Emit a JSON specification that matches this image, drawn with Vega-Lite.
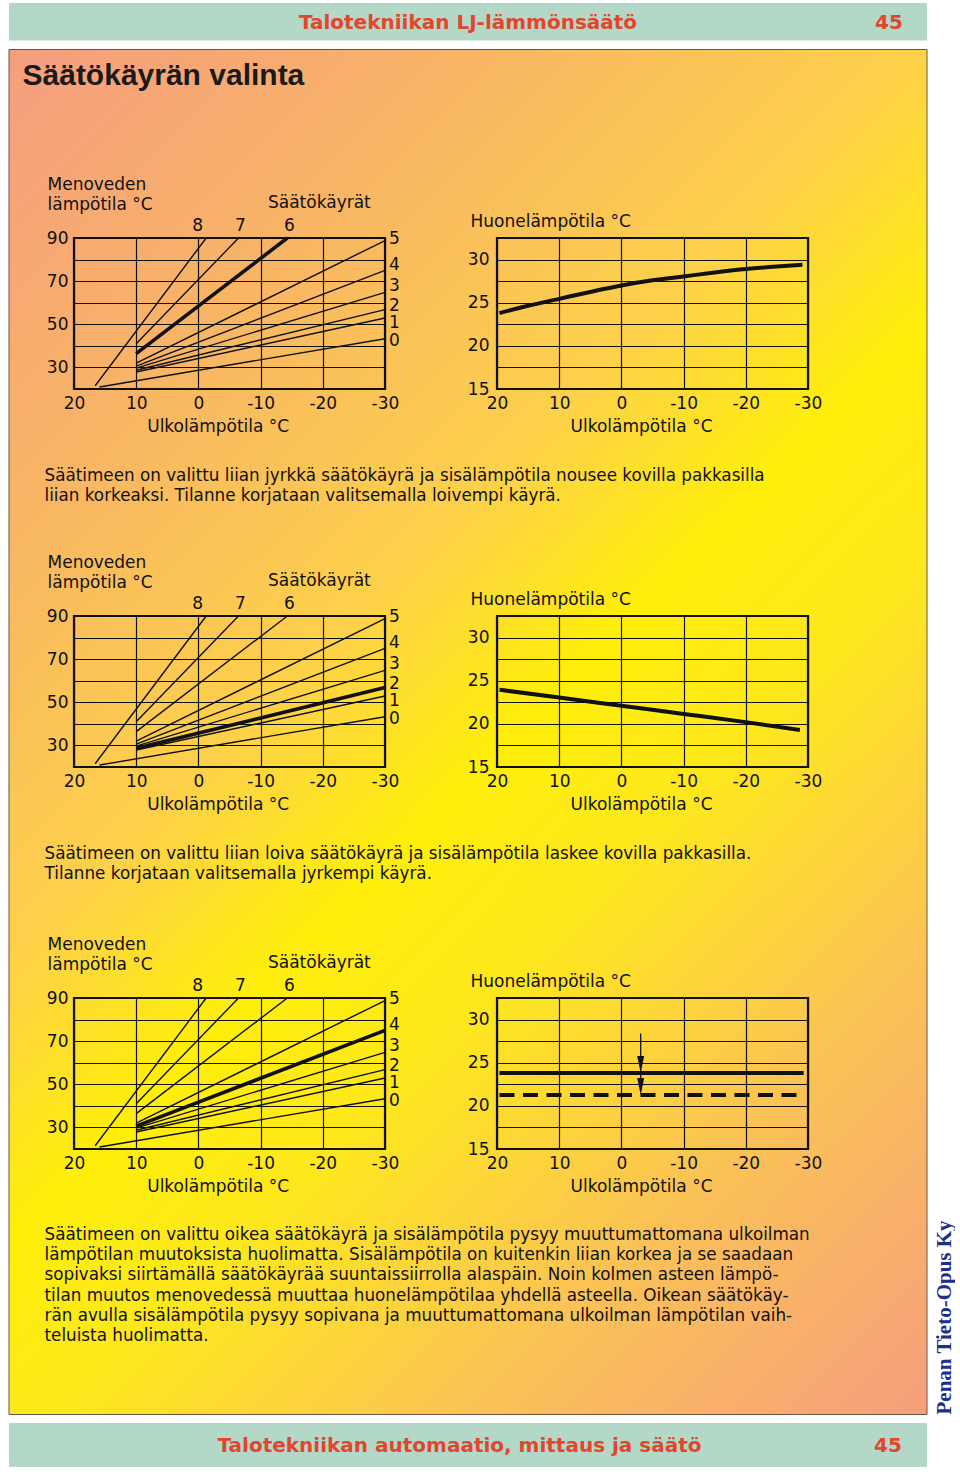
{
  "$schema": "https://vega.github.io/schema/vega-lite/v6.json",
  "background": "white",
  "padding": {"left": 8, "top": 3, "right": 0, "bottom": 0},
  "autosize": {"type": "pad"},
  "bounds": "flush",
  "spacing": 0,
  "config": {
    "view": {"stroke": null},
    "font": "DejaVu Sans",
    "axis": {"labelFont": "DejaVu Sans", "labelFontSize": 17, "labelColor": "#111", "titleFont": "DejaVu Sans", "titleFontSize": 17, "titleFontWeight": "normal", "titleColor": "#111", "domain": false, "ticks": false, "tickSize": 0, "grid": true, "gridColor": "#111", "gridWidth": 1.2, "gridOpacity": 1, "labelOverlap": false},
    "title": {"font": "DejaVu Sans", "fontWeight": "normal", "color": "#111", "anchor": "start", "frame": "group"}
  },
  "datasets": {
    "curves": [
      {"curve": "8", "t": 16.6, "v": 21.5}, {"curve": "8", "t": -1.25, "v": 90},
      {"curve": "7", "t": 10, "v": 41}, {"curve": "7", "t": -6.45, "v": 90},
      {"curve": "6", "t": 10, "v": 36.4}, {"curve": "6", "t": -14.3, "v": 90},
      {"curve": "5", "t": 10, "v": 32}, {"curve": "5", "t": -30, "v": 88.8},
      {"curve": "4", "t": 10, "v": 30.6}, {"curve": "4", "t": -30, "v": 75},
      {"curve": "3", "t": 10, "v": 29.7}, {"curve": "3", "t": -30, "v": 64.8},
      {"curve": "2", "t": 10, "v": 28.7}, {"curve": "2", "t": -30, "v": 56.8},
      {"curve": "1", "t": 10, "v": 27.9}, {"curve": "1", "t": -30, "v": 52.9},
      {"curve": "0", "t": 15.9, "v": 20.9}, {"curve": "0", "t": -30, "v": 43.3}
    ],
    "curveLabels": [
      {"label": "8", "t": 0.1, "v": 95.7}, {"label": "7", "t": -6.77, "v": 95.7}, {"label": "6", "t": -14.64, "v": 95.7},
      {"label": "5", "t": -31.5, "v": 89.5}, {"label": "4", "t": -31.5, "v": 77.3}, {"label": "3", "t": -31.5, "v": 67.6},
      {"label": "2", "t": -31.5, "v": 58.6}, {"label": "1", "t": -31.5, "v": 50.6}, {"label": "0", "t": -31.5, "v": 42.1},
      {"label": "Säätökäyrät", "t": -19.45, "v": 106.2}
    ],
    "room1": [
      {"t": 19.6, "v": 23.8}, {"t": 15, "v": 24.65}, {"t": 10, "v": 25.45}, {"t": 5, "v": 26.25}, {"t": 0, "v": 27.0},
      {"t": -5, "v": 27.6}, {"t": -10, "v": 28.05}, {"t": -15, "v": 28.5}, {"t": -20, "v": 28.9}, {"t": -25, "v": 29.2}, {"t": -29.1, "v": 29.4}
    ],
    "room2": [
      {"t": 19.6, "v": 23.95}, {"t": 10, "v": 23.05}, {"t": 0, "v": 22.1}, {"t": -10, "v": 21.15}, {"t": -20, "v": 20.2}, {"t": -28.7, "v": 19.3}
    ],
    "room3": [
      {"kind": "now", "t": 19.6, "v": 23.8}, {"kind": "now", "t": -29.3, "v": 23.8},
      {"kind": "target", "t": 19.6, "v": 21.25}, {"kind": "target", "t": -28.2, "v": 21.25}
    ],
    "arrow": [{"t": -3.1, "v": 28.4, "v2": 21.8}],
    "arrowHeads": [{"t": -3.1, "v": 23.8}, {"t": -3.1, "v": 21.25}]
  },
  "vconcat": [
    {
      "concat": [
        {
          "width": 918, "height": 37.5,
          "view": {"fill": "#B4D8C8"},
          "data": {"values": [{"title": "Talotekniikan LJ-lämmönsäätö", "page": "45"}]},
          "layer": [
            {"mark": {"type": "text", "font": "DejaVu Sans", "fontWeight": "bold", "fontSize": 20, "color": "#E2462C", "baseline": "middle", "dy": 1.5}, "encoding": {"text": {"field": "title"}}},
            {"mark": {"type": "text", "font": "DejaVu Sans", "fontWeight": "bold", "fontSize": 20, "color": "#E2462C", "baseline": "middle", "align": "center", "dx": -38, "dy": 1.5}, "encoding": {"text": {"field": "page"}, "x": {"value": "width"}}}
          ]
        },
        {"width": 17, "height": 37.5, "data": {"values": [{}]}, "mark": {"type": "text", "text": ""}},
        {
          "width": 918, "height": 1365,
          "data": {"values": [{}]},
          "mark": {"type": "rect", "stroke": "#6B5646", "strokeWidth": 1,
            "fill": {"gradient": "linear", "x1": 0, "y1": 0, "x2": 0.774, "y2": 1.152,
              "stops": [
                {"offset": 0, "color": "#F59D80"}, {"offset": 0.2, "color": "#F8B466"}, {"offset": 0.4, "color": "#FDD14A"},
                {"offset": 0.52, "color": "#FFEE0A"}, {"offset": 0.62, "color": "#FEE81C"}, {"offset": 0.8, "color": "#FBC256"},
                {"offset": 1, "color": "#F59E7E"}]}},
          "encoding": {"x": {"value": 0}, "x2": {"value": "width"}, "y": {"value": 0}, "y2": {"value": "height"}}
        },
        {
          "width": 17, "height": 1365,
          "data": {"values": [{"t": "Penan Tieto-Opus Ky"}]},
          "mark": {"type": "text", "angle": 270, "align": "left", "baseline": "middle", "font": "Liberation Serif", "fontWeight": "bold", "fontSize": 21, "color": "#1E2E8E"},
          "encoding": {"text": {"field": "t"}, "y": {"value": "height"}}
        },
        {
          "width": 918, "height": 44,
          "view": {"fill": "#B4D8C8"},
          "data": {"values": [{"title": "Talotekniikan automaatio, mittaus ja säätö", "page": "45"}]},
          "layer": [
            {"mark": {"type": "text", "font": "DejaVu Sans", "fontWeight": "bold", "fontSize": 20, "color": "#E2462C", "baseline": "middle", "dx": -8.5, "dy": 1}, "encoding": {"text": {"field": "title"}}},
            {"mark": {"type": "text", "font": "DejaVu Sans", "fontWeight": "bold", "fontSize": 20, "color": "#E2462C", "baseline": "middle", "align": "center", "dx": -39, "dy": 1}, "encoding": {"text": {"field": "page"}, "x": {"value": "width"}}}
          ]
        },
        {"width": 17, "height": 44, "data": {"values": [{}]}, "mark": {"type": "text", "text": ""}}
      ],
      "columns": 2,
      "spacing": {"row": 8.5, "column": 9},
      "bounds": "flush"
    },
    {
      "hconcat": [
        {"width": 65, "height": 200, "data": {"values": [{}]}, "mark": {"type": "text", "text": ""}},
        {
          "concat": [
            {"width": 311, "height": 46, "data": {"values": [{}]}, "mark": {"type": "text", "text": ""},
             "title": {"text": "Säätökäyrän valinta", "orient": "bottom", "anchor": "start", "frame": "group", "baseline": "top", "offset": 12, "dx": -51.5, "font": "Liberation Sans", "fontSize": 30, "fontWeight": "bold", "color": "#1a1a1a"}},
            {"width": 311, "height": 46, "data": {"values": [{}]}, "mark": {"type": "text", "text": ""}},
            {"width": 311, "height": 189, "data": {"values": [{}]}, "mark": {"type": "text", "text": ""}},
            {"width": 311, "height": 189, "data": {"values": [{}]}, "mark": {"type": "text", "text": ""}},
            {
              "width": 311, "height": 151,
              "view": {"stroke": "#111", "strokeWidth": 2.2},
              "encoding": {
                "x": {"field": "t", "type": "quantitative", "scale": {"domain": [20, -30], "nice": false, "zero": false},
                  "axis": {"values": [20, 10, 0, -10, -20, -30], "labelExpr": "datum.value < 0 ? '-' + abs(datum.value) : '' + datum.value", "labelPadding": 6, "labelBaseline": "top", "labelFlush": false, "title": "Ulkolämpötila °C", "titleX": 143.7, "titleY": 29.5, "titleAlign": "center", "titleBaseline": "top"}},
                "y": {"field": "v", "type": "quantitative", "scale": {"domain": [20, 90], "nice": false, "zero": false},
                  "axis": {"values": [20, 30, 40, 50, 60, 70, 80, 90], "labelExpr": "datum.value % 20 == 10 ? '' + datum.value : ''", "labelPadding": 6, "title": ["Menoveden", "lämpötila °C"], "titleAngle": 0, "titleAlign": "left", "titleBaseline": "alphabetic", "titleX": -27, "titleY": -49, "titleLineHeight": 20}}
              },
              "layer": [
                {"data": {"name": "curves"}, "mark": {"type": "line", "color": "#111", "strokeWidth": 1.4}, "encoding": {"detail": {"field": "curve"}}},
                {"data": {"name": "curves"}, "transform": [{"filter": "datum.curve === '6'"}], "mark": {"type": "line", "color": "#111", "strokeWidth": 3.6}},
                {"data": {"name": "curveLabels"}, "mark": {"type": "text", "fontSize": 17, "color": "#111", "baseline": "middle"}, "encoding": {"text": {"field": "label"}}}
              ]
            },
            {
              "width": 311, "height": 151,
              "view": {"stroke": "#111", "strokeWidth": 2.2},
              "encoding": {
                "x": {"field": "t", "type": "quantitative", "scale": {"domain": [20, -30], "nice": false, "zero": false},
                  "axis": {"values": [20, 10, 0, -10, -20, -30], "labelExpr": "datum.value < 0 ? '-' + abs(datum.value) : '' + datum.value", "labelPadding": 6, "labelBaseline": "top", "labelFlush": false, "title": "Ulkolämpötila °C", "titleX": 144, "titleY": 29.5, "titleAlign": "center", "titleBaseline": "top"}},
                "y": {"field": "v", "type": "quantitative", "scale": {"domain": [15, 32.5], "nice": false, "zero": false},
                  "axis": {"values": [15, 17.5, 20, 22.5, 25, 27.5, 30, 32.5], "labelExpr": "datum.value % 5 == 0 ? '' + datum.value : ''", "labelPadding": 8, "title": "Huonelämpötila °C", "titleAngle": 0, "titleAlign": "left", "titleBaseline": "alphabetic", "titleX": -27, "titleY": -12}}
              },
              "layer": [
                {"data": {"name": "room1"}, "mark": {"type": "line", "color": "#111", "strokeWidth": 4, "strokeCap": "butt", "interpolate": "monotone"}}
              ]
            },
            {"width": 311, "height": 79, "data": {"values": [{}]}, "mark": {"type": "text", "text": ""},
             "title": {"text": ["Säätimeen on valittu liian jyrkkä säätökäyrä ja sisälämpötila nousee kovilla pakkasilla", "liian korkeaksi. Tilanne korjataan valitsemalla loivempi käyrä."], "orient": "bottom", "anchor": "start", "frame": "group", "baseline": "top", "offset": 0, "dx": -29.5, "fontSize": 16.8, "lineHeight": 20.2, "fontWeight": "normal", "font": "DejaVu Sans", "color": "#111"}},
            {"width": 311, "height": 79, "data": {"values": [{}]}, "mark": {"type": "text", "text": ""}},
            {"width": 311, "height": 148, "data": {"values": [{}]}, "mark": {"type": "text", "text": ""}},
            {"width": 311, "height": 148, "data": {"values": [{}]}, "mark": {"type": "text", "text": ""}},
            {
              "width": 311, "height": 151,
              "view": {"stroke": "#111", "strokeWidth": 2.2},
              "encoding": {
                "x": {"field": "t", "type": "quantitative", "scale": {"domain": [20, -30], "nice": false, "zero": false},
                  "axis": {"values": [20, 10, 0, -10, -20, -30], "labelExpr": "datum.value < 0 ? '-' + abs(datum.value) : '' + datum.value", "labelPadding": 6, "labelBaseline": "top", "labelFlush": false, "title": "Ulkolämpötila °C", "titleX": 143.7, "titleY": 29.5, "titleAlign": "center", "titleBaseline": "top"}},
                "y": {"field": "v", "type": "quantitative", "scale": {"domain": [20, 90], "nice": false, "zero": false},
                  "axis": {"values": [20, 30, 40, 50, 60, 70, 80, 90], "labelExpr": "datum.value % 20 == 10 ? '' + datum.value : ''", "labelPadding": 6, "title": ["Menoveden", "lämpötila °C"], "titleAngle": 0, "titleAlign": "left", "titleBaseline": "alphabetic", "titleX": -27, "titleY": -49, "titleLineHeight": 20}}
              },
              "layer": [
                {"data": {"name": "curves"}, "mark": {"type": "line", "color": "#111", "strokeWidth": 1.4}, "encoding": {"detail": {"field": "curve"}}},
                {"data": {"name": "curves"}, "transform": [{"filter": "datum.curve === '2'"}], "mark": {"type": "line", "color": "#111", "strokeWidth": 3.6}},
                {"data": {"name": "curveLabels"}, "mark": {"type": "text", "fontSize": 17, "color": "#111", "baseline": "middle"}, "encoding": {"text": {"field": "label"}}}
              ]
            },
            {
              "width": 311, "height": 151,
              "view": {"stroke": "#111", "strokeWidth": 2.2},
              "encoding": {
                "x": {"field": "t", "type": "quantitative", "scale": {"domain": [20, -30], "nice": false, "zero": false},
                  "axis": {"values": [20, 10, 0, -10, -20, -30], "labelExpr": "datum.value < 0 ? '-' + abs(datum.value) : '' + datum.value", "labelPadding": 6, "labelBaseline": "top", "labelFlush": false, "title": "Ulkolämpötila °C", "titleX": 144, "titleY": 29.5, "titleAlign": "center", "titleBaseline": "top"}},
                "y": {"field": "v", "type": "quantitative", "scale": {"domain": [15, 32.5], "nice": false, "zero": false},
                  "axis": {"values": [15, 17.5, 20, 22.5, 25, 27.5, 30, 32.5], "labelExpr": "datum.value % 5 == 0 ? '' + datum.value : ''", "labelPadding": 8, "title": "Huonelämpötila °C", "titleAngle": 0, "titleAlign": "left", "titleBaseline": "alphabetic", "titleX": -27, "titleY": -12}}
              },
              "layer": [
                {"data": {"name": "room2"}, "mark": {"type": "line", "color": "#111", "strokeWidth": 4, "strokeCap": "butt", "interpolate": "monotone"}}
              ]
            },
            {"width": 311, "height": 79, "data": {"values": [{}]}, "mark": {"type": "text", "text": ""},
             "title": {"text": ["Säätimeen on valittu liian loiva säätökäyrä ja sisälämpötila laskee kovilla pakkasilla.", "Tilanne korjataan valitsemalla jyrkempi käyrä."], "orient": "bottom", "anchor": "start", "frame": "group", "baseline": "top", "offset": 0, "dx": -29.5, "fontSize": 16.8, "lineHeight": 20.2, "fontWeight": "normal", "font": "DejaVu Sans", "color": "#111"}},
            {"width": 311, "height": 79, "data": {"values": [{}]}, "mark": {"type": "text", "text": ""}},
            {"width": 311, "height": 152, "data": {"values": [{}]}, "mark": {"type": "text", "text": ""}},
            {"width": 311, "height": 152, "data": {"values": [{}]}, "mark": {"type": "text", "text": ""}},
            {
              "width": 311, "height": 151,
              "view": {"stroke": "#111", "strokeWidth": 2.2},
              "encoding": {
                "x": {"field": "t", "type": "quantitative", "scale": {"domain": [20, -30], "nice": false, "zero": false},
                  "axis": {"values": [20, 10, 0, -10, -20, -30], "labelExpr": "datum.value < 0 ? '-' + abs(datum.value) : '' + datum.value", "labelPadding": 6, "labelBaseline": "top", "labelFlush": false, "title": "Ulkolämpötila °C", "titleX": 143.7, "titleY": 29.5, "titleAlign": "center", "titleBaseline": "top"}},
                "y": {"field": "v", "type": "quantitative", "scale": {"domain": [20, 90], "nice": false, "zero": false},
                  "axis": {"values": [20, 30, 40, 50, 60, 70, 80, 90], "labelExpr": "datum.value % 20 == 10 ? '' + datum.value : ''", "labelPadding": 6, "title": ["Menoveden", "lämpötila °C"], "titleAngle": 0, "titleAlign": "left", "titleBaseline": "alphabetic", "titleX": -27, "titleY": -49, "titleLineHeight": 20}}
              },
              "layer": [
                {"data": {"name": "curves"}, "mark": {"type": "line", "color": "#111", "strokeWidth": 1.4}, "encoding": {"detail": {"field": "curve"}}},
                {"data": {"name": "curves"}, "transform": [{"filter": "datum.curve === '4'"}], "mark": {"type": "line", "color": "#111", "strokeWidth": 3.6}},
                {"data": {"name": "curveLabels"}, "mark": {"type": "text", "fontSize": 17, "color": "#111", "baseline": "middle"}, "encoding": {"text": {"field": "label"}}}
              ]
            },
            {
              "width": 311, "height": 151,
              "view": {"stroke": "#111", "strokeWidth": 2.2},
              "encoding": {
                "x": {"field": "t", "type": "quantitative", "scale": {"domain": [20, -30], "nice": false, "zero": false},
                  "axis": {"values": [20, 10, 0, -10, -20, -30], "labelExpr": "datum.value < 0 ? '-' + abs(datum.value) : '' + datum.value", "labelPadding": 6, "labelBaseline": "top", "labelFlush": false, "title": "Ulkolämpötila °C", "titleX": 144, "titleY": 29.5, "titleAlign": "center", "titleBaseline": "top"}},
                "y": {"field": "v", "type": "quantitative", "scale": {"domain": [15, 32.5], "nice": false, "zero": false},
                  "axis": {"values": [15, 17.5, 20, 22.5, 25, 27.5, 30, 32.5], "labelExpr": "datum.value % 5 == 0 ? '' + datum.value : ''", "labelPadding": 8, "title": "Huonelämpötila °C", "titleAngle": 0, "titleAlign": "left", "titleBaseline": "alphabetic", "titleX": -27, "titleY": -12}}
              },
              "layer": [
                {"data": {"name": "room3"}, "transform": [{"filter": "datum.kind === 'now'"}], "mark": {"type": "line", "color": "#111", "strokeWidth": 4, "strokeCap": "butt"}},
                {"data": {"name": "room3"}, "transform": [{"filter": "datum.kind === 'target'"}], "mark": {"type": "line", "color": "#111", "strokeWidth": 4, "strokeCap": "butt", "strokeDash": [15, 8.5]}},
                {"data": {"name": "arrow"}, "mark": {"type": "rule", "color": "#111", "strokeWidth": 1.3}, "encoding": {"y2": {"field": "v2"}}},
                {"data": {"name": "arrowHeads"}, "mark": {"type": "point", "filled": true, "color": "#111", "opacity": 1, "shape": "M-0.41,-2L0.41,-2L0,0Z", "size": 289}}
              ]
            },
            {"width": 311, "height": 78, "data": {"values": [{}]}, "mark": {"type": "text", "text": ""},
             "title": {"text": ["Säätimeen on valittu oikea säätökäyrä ja sisälämpötila pysyy muuttumattomana ulkoilman", "lämpötilan muutoksista huolimatta. Sisälämpötila on kuitenkin liian korkea ja se saadaan", "sopivaksi siirtämällä säätökäyrää suuntaissiirrolla alaspäin. Noin kolmen asteen lämpö-", "tilan muutos menovedessä muuttaa huonelämpötilaa yhdellä asteella. Oikean säätökäy-", "rän avulla sisälämpötila pysyy sopivana ja muuttumattomana ulkoilman lämpötilan vaih-", "teluista huolimatta."], "orient": "bottom", "anchor": "start", "frame": "group", "baseline": "top", "offset": 0, "dx": -29.5, "fontSize": 16.8, "lineHeight": 20.2, "fontWeight": "normal", "font": "DejaVu Sans", "color": "#111"}},
            {"width": 311, "height": 78, "data": {"values": [{}]}, "mark": {"type": "text", "text": ""}}
          ],
          "columns": 2,
          "spacing": {"row": 0, "column": 112},
          "bounds": "flush"
        }
      ],
      "spacing": 0,
      "bounds": "flush"
    }
  ]
}
